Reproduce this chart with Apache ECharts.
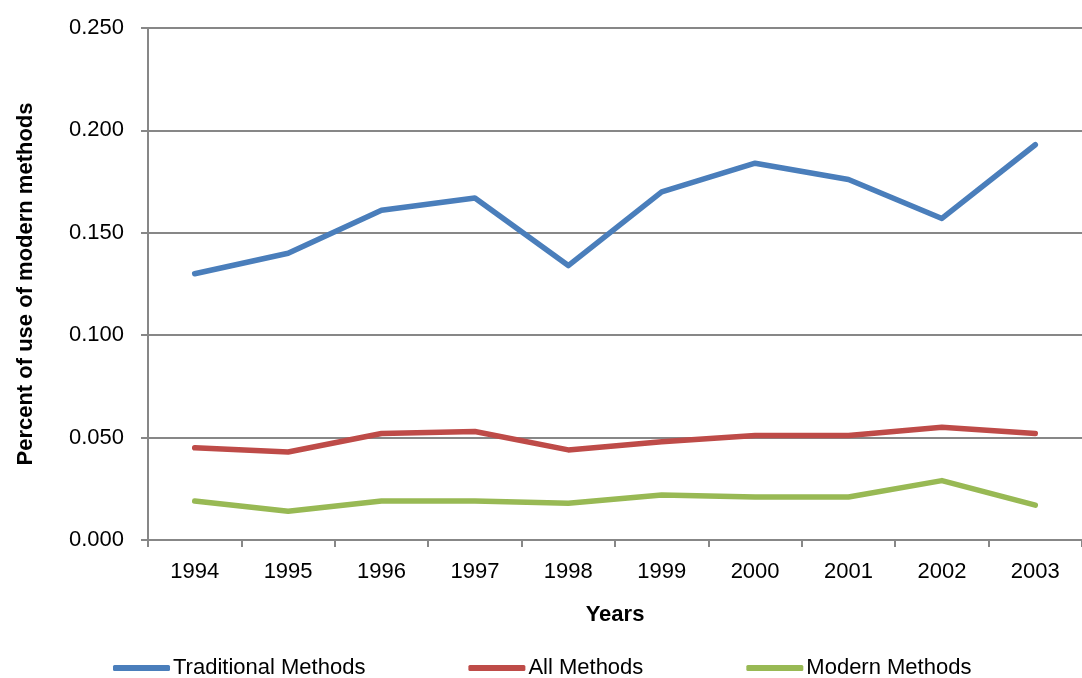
<!DOCTYPE html>
<html>
<head>
<meta charset="utf-8">
<script src="https://cdn.jsdelivr.net/npm/echarts@6/dist/echarts.min.js"></script>
<style>
  html, body { margin: 0; padding: 0; background: #fff; }
  #chart { width: 1082px; height: 678px; }
</style>
</head>
<body>
<div id="chart"></div>
<script>
  // data
  const years = ['1994', '1995', '1996', '1997', '1998', '1999', '2000', '2001', '2002', '2003'];
  const traditional = [0.130, 0.140, 0.161, 0.167, 0.134, 0.170, 0.184, 0.176, 0.157, 0.193];
  const allMethods = [0.045, 0.043, 0.052, 0.053, 0.044, 0.048, 0.051, 0.051, 0.055, 0.052];
  const modern = [0.019, 0.014, 0.019, 0.019, 0.018, 0.022, 0.021, 0.021, 0.029, 0.017];

  const font = '"Liberation Sans", Arial, sans-serif';
  const axisGray = '#878787';

  function lineSeries(name, data, color) {
    return {
      name: name,
      type: 'line',
      data: data,
      symbol: 'none',
      lineStyle: { color: color, width: 5.5, cap: 'round', join: 'round' },
      itemStyle: { color: color }
    };
  }

  let chart = echarts.init(document.getElementById('chart'));
  chart.setOption({
    animation: false,
    textStyle: { fontFamily: font },
    grid: { left: 148, right: -7, top: 28, bottom: 138, containLabel: false },
    legend: {
      top: 657,
      left: 113,
      padding: 0,
      itemWidth: 57,
      itemHeight: 6,
      itemGap: 103,
      icon: 'roundRect',
      textStyle: { fontSize: 22, color: '#000', fontFamily: font, padding: [0, 0, 0, -2] },
      data: ['Traditional Methods', 'All Methods', 'Modern Methods']
    },
    xAxis: {
      type: 'category',
      data: years,
      boundaryGap: true,
      name: 'Years',
      nameLocation: 'middle',
      nameGap: 64,
      nameTextStyle: { fontSize: 22, fontWeight: 'bold', color: '#000' },
      axisLine: { lineStyle: { color: axisGray, width: 2 } },
      axisTick: { show: true, length: 7, lineStyle: { color: axisGray, width: 2 } },
      axisLabel: { fontSize: 22, color: '#000', margin: 21 },
      splitLine: { show: false }
    },
    yAxis: {
      type: 'value',
      min: 0,
      max: 0.25,
      interval: 0.05,
      name: 'Percent of use of modern methods',
      nameLocation: 'middle',
      nameGap: 111,
      nameTextStyle: { fontSize: 22, fontWeight: 'bold', color: '#000' },
      axisLine: { show: true, lineStyle: { color: axisGray, width: 2 } },
      axisTick: { show: true, length: 7, lineStyle: { color: axisGray, width: 2 } },
      axisLabel: { fontSize: 22, color: '#000', margin: 24, formatter: v => v.toFixed(3) },
      splitLine: { show: true, lineStyle: { color: axisGray, width: 2 } }
    },
    series: [
      lineSeries('Traditional Methods', traditional, '#4a7ebb'),
      lineSeries('All Methods', allMethods, '#be4b48'),
      lineSeries('Modern Methods', modern, '#98b954')
    ]
  });
</script>
</body>
</html>
